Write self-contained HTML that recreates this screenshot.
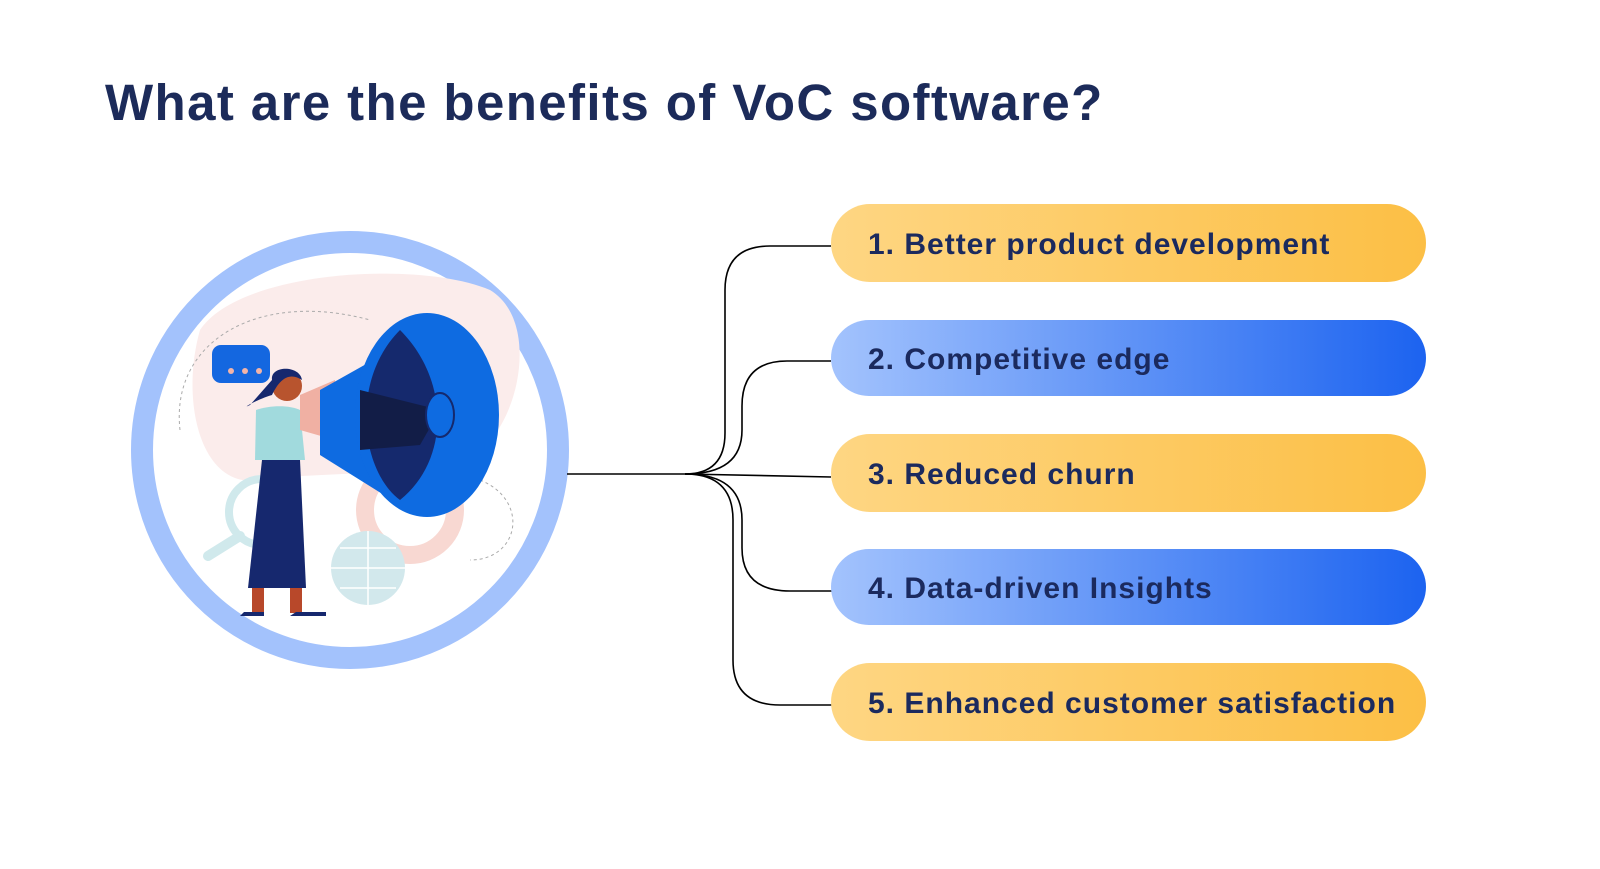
<!DOCTYPE html>
<html><head><style>
body{margin:0;width:1600px;height:864px;background:#fff;overflow:hidden;font-family:"Liberation Sans",sans-serif}
</style></head><body>
<svg width="1600" height="864" viewBox="0 0 1600 864" xmlns="http://www.w3.org/2000/svg">
<defs>
<linearGradient id="y" x1="0" x2="1"><stop offset="0" stop-color="#fed683"/><stop offset="1" stop-color="#fcbf45"/></linearGradient>
<linearGradient id="b" x1="0" x2="1"><stop offset="0" stop-color="#a3c3fd"/><stop offset="1" stop-color="#1c63f0"/></linearGradient>
</defs>
<text x="105" y="120" font-size="51" font-weight="900" fill="#1c2b5a" letter-spacing="1.4" font-family="Liberation Sans,sans-serif">What are the benefits of VoC software?</text>

<!-- circle -->
<circle cx="350" cy="450" r="208" fill="#fff" stroke="#a3c2fc" stroke-width="22"/>
<path d="M200 330 C240 270 420 260 490 290 C540 320 520 420 480 450 C420 480 330 470 260 480 C200 490 180 400 200 330Z" fill="#fbeceb"/>
<path d="M180 430 C170 340 260 290 370 320" fill="none" stroke="#aaa" stroke-dasharray="3 3"/>
<path d="M480 480 C530 500 520 560 470 560" fill="none" stroke="#aaa" stroke-dasharray="3 3"/>
<!-- gear -->
<circle cx="410" cy="510" r="45" fill="none" stroke="#f8d8d2" stroke-width="18"/>
<!-- globe -->
<circle cx="368" cy="568" r="37" fill="#d2e8ec"/>
<path d="M331 568h74M368 531v74M340 548h56M340 588h56" stroke="#fff" stroke-width="1.5"/>
<!-- magnifier -->
<circle cx="262" cy="512" r="33" fill="none" stroke="#d0e9ec" stroke-width="8"/>
<path d="M240 536 L208 556" stroke="#d0e9ec" stroke-width="10" stroke-linecap="round"/>
<!-- bubble -->
<rect x="212" y="345" width="58" height="38" rx="9" fill="#1467e0"/>
<circle cx="231" cy="371" r="3" fill="#f2b4a8"/><circle cx="245" cy="371" r="3" fill="#f2b4a8"/><circle cx="259" cy="371" r="3" fill="#f2b4a8"/>
<!-- woman -->
<circle cx="287" cy="386" r="15" fill="#b8542e"/>
<path d="M272 380 C270 365 300 365 302 380 C290 372 280 378 272 395 C255 400 240 410 250 405Z" fill="#16286e"/>
<path d="M256 410 C270 405 290 405 300 410 L305 460 L255 460Z" fill="#a1dadd"/>
<path d="M262 460 L300 460 L306 588 L248 588Z" fill="#16286e"/>
<rect x="252" y="588" width="12" height="25" fill="#b8482a"/><rect x="290" y="588" width="12" height="25" fill="#b8482a"/>
<path d="M240 616 h24 v-4 h-20Z M290 616 h36 v-4 h-30Z" fill="#16286e"/>
<!-- megaphone -->
<path d="M300 395 L335 380 L335 440 L300 430Z" fill="#f0b0a3"/>
<path d="M320 390 L400 345 L400 505 L320 455Z" fill="#0e6be1"/>
<ellipse cx="427" cy="415" rx="72" ry="102" fill="#0e6be1"/>
<path d="M400 330 C450 380 450 460 400 500 C360 470 350 380 400 330Z" fill="#15296d"/>
<path d="M360 390 L440 410 L420 445 L360 450Z" fill="#121d47"/>
<ellipse cx="440" cy="415" rx="14" ry="22" fill="#0e6be1" stroke="#15296d" stroke-width="2"/>

<!-- connectors -->
<g fill="none" stroke="#000" stroke-width="1.6">
<path d="M567 474 H685 Q725 474 725 433 V290 Q725 246 770 246 H831"/>
<path d="M685 474 Q742 474 742 430 V406 Q742 361 787 361 H831"/>
<path d="M685 474 L831 477"/>
<path d="M685 474 Q742 474 742 520 V548 Q742 591 790 591 H833"/>
<path d="M685 474 Q733 474 733 520 V660 Q733 705 780 705 H833"/>
</g>

<!-- pills -->
<rect x="831" y="204" width="595" height="78" rx="39" fill="url(#y)"/>
<rect x="831" y="320" width="595" height="76" rx="38" fill="url(#b)"/>
<rect x="831" y="434" width="595" height="78" rx="39" fill="url(#y)"/>
<rect x="831" y="549" width="595" height="76" rx="38" fill="url(#b)"/>
<rect x="831" y="663" width="595" height="78" rx="39" fill="url(#y)"/>
<g font-size="30" font-weight="bold" fill="#1b2a5e" letter-spacing="1" font-family="Liberation Sans,sans-serif">
<text x="868" y="254">1. Better product development</text>
<text x="868" y="369">2. Competitive edge</text>
<text x="868" y="484">3. Reduced churn</text>
<text x="868" y="598">4. Data-driven Insights</text>
<text x="868" y="713">5. Enhanced customer satisfaction</text>
</g>
</svg>
</body></html>
